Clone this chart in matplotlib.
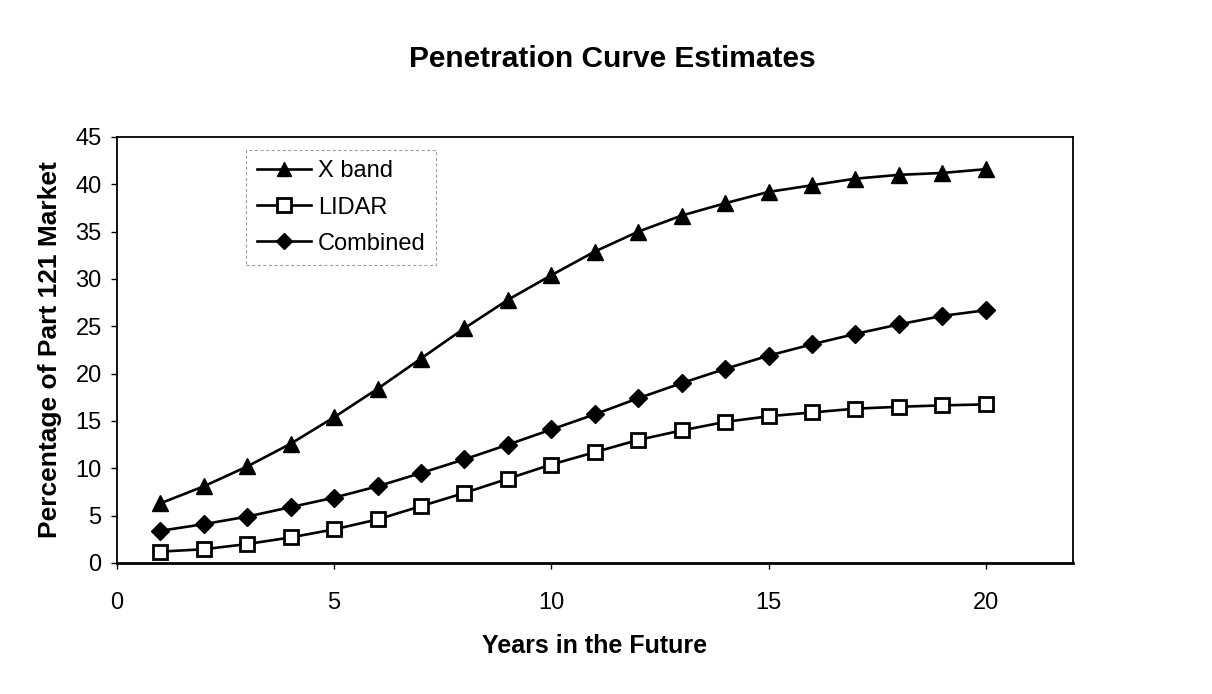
import matplotlib
matplotlib.use("Agg")
import matplotlib.pyplot as plt

plt.rcParams['font.family'] = ['Liberation Sans', 'DejaVu Sans']

years = list(range(1, 21))
x_band = [6.3, 8.1, 10.2, 12.6, 15.4, 18.4, 21.6, 24.8, 27.8, 30.4,
          32.9, 35.0, 36.7, 38.0, 39.2, 39.9, 40.6, 41.0, 41.2, 41.6]
lidar = [1.2, 1.45, 2.0, 2.7, 3.55, 4.6, 6.0, 7.4, 8.9, 10.4,
         11.7, 13.0, 14.0, 14.9, 15.5, 15.9, 16.3, 16.5, 16.65, 16.75]
combined = [3.4, 4.1, 4.9, 5.9, 6.9, 8.1, 9.5, 10.95, 12.5, 14.1,
            15.7, 17.4, 19.0, 20.5, 21.9, 23.1, 24.2, 25.2, 26.1, 26.7]

fig = plt.figure(figsize=(12.12, 6.94), dpi=100)
ax = fig.add_axes([0.0965, 0.1888, 0.7885, 0.6138])

ax.plot(years, x_band, color='k', lw=1.9, marker='^', ms=11, mfc='k', label='X band')
ax.plot(years, lidar, color='k', lw=1.9, marker='s', ms=10.5, mfc='white', mew=2, label='LIDAR')
ax.plot(years, combined, color='k', lw=1.9, marker='D', ms=9, mfc='k', label='Combined')

ax.set_xlim(0, 22)
ax.set_ylim(0, 45)
ax.set_xticks([0, 5, 10, 15, 20])
ax.set_yticks(range(0, 46, 5))
ax.tick_params(direction='out', length=4, width=1, labelsize=17, pad=7)
ax.tick_params(axis='x', pad=17)
for s in ax.spines.values():
    s.set_linewidth(1.3)
ax.spines['bottom'].set_linewidth(2)

ax.set_xlabel('Years in the Future', fontsize=18, fontweight='bold', labelpad=14)
ax.set_ylabel('Percentage of Part 121 Market', fontsize=19, fontweight='bold', labelpad=10)
fig.text(0.505, 0.915, 'Penetration Curve Estimates', ha='center', va='center',
         fontsize=21.5, fontweight='bold')

leg = ax.legend(loc='upper left', bbox_to_anchor=(0.135, 0.97), fontsize=17,
                frameon=True, fancybox=False, handlelength=2.3, handletextpad=0.3,
                borderpad=0.45, labelspacing=0.6, borderaxespad=0, markerscale=0.9)
leg.get_frame().set_edgecolor('#888888')
leg.get_frame().set_linestyle((0, (3, 2)))
leg.get_frame().set_linewidth(0.8)

fig.savefig('out.png', dpi=100)
